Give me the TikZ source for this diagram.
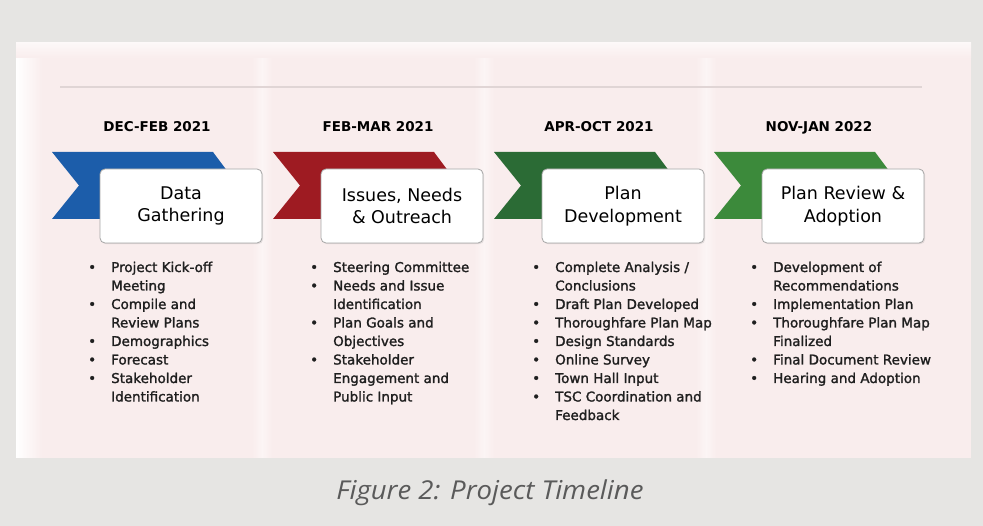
\documentclass[tikz,border=0pt]{standalone}
\usepackage{fontspec}
\setmainfont{DejaVu Sans}
\newfontfamily\bulfont[FakeBold=1.6]{DejaVu Sans}
\newfontfamily\capfont[FakeStretch=1.06]{Open Sans}
\usetikzlibrary{shadows}
\definecolor{bgray}{HTML}{E6E5E3}
\definecolor{panelc}{HTML}{F9EDED}
\definecolor{cblue}{HTML}{1C5DAA}
\definecolor{cred}{HTML}{9E1B22}
\definecolor{cgreenA}{HTML}{2B6B35}
\definecolor{cgreenB}{HTML}{3C8A3B}
\definecolor{capgray}{HTML}{5A5A5A}
\newcommand{\bitem}[1]{\par\noindent\hangindent=23pt\hangafter=1\makebox[23pt][l]{\textbullet}#1}
\tikzset{
  titlebox/.style={draw=black!35, line width=0.8pt, fill=white, rounded corners=5pt,
    minimum width=162pt, minimum height=74pt, align=center, inner sep=0pt,
    font=\fontsize{17.5}{22.5}\selectfont,
    drop shadow={opacity=0.18, shadow xshift=1.2pt, shadow yshift=-1.2pt}},
  datelbl/.style={font=\bfseries\fontsize{13.5}{16}\selectfont, inner sep=0pt, anchor=base},
  bullist/.style={anchor=base west, inner sep=0pt, text=black!88},
}
\newcommand{\listfont}{\bulfont\fontsize{13.5}{18.5}\selectfont}
\begin{document}
\begin{tikzpicture}[x=1pt,y=-1pt]
\useasboundingbox (0,0) rectangle (983,526);
\fill[bgray] (0,0) rectangle (983,526);
% panel
\fill[panelc] (16,43) rectangle (971,458);
\shade[left color=white, right color=panelc] (16,43) rectangle (42,458);
\foreach \xx in {262,484,706}{
  \shade[left color=panelc, right color=panelc, middle color=white!45!panelc] (\xx-10,43) rectangle (\xx+10,458);
}
\shade[top color=white!60!panelc, bottom color=panelc] (16,43) rectangle (971,58);
\draw[line width=2pt, draw=black!10!panelc] (60,87) -- (922,87);

% ---------- column chevrons ----------
\foreach \off/\col in {0/cblue,221/cred,442/cgreenA,662/cgreenB}{
  \fill[\col] ({\off+52},152) -- ({\off+213},152) -- ({\off+238},185.5) -- ({\off+213},219)
     -- ({\off+52},219) -- ({\off+79},185.5) -- cycle;
}

% ---------- date labels ----------
\node[datelbl] (d1) at (157,132) {DEC-FEB 2021};
\node[datelbl] (d2) at (378,132) {FEB-MAR 2021};
\node[datelbl] (d3) at (599,132) {APR-OCT 2021};
\node[datelbl] (d4) at (819,132) {NOV-JAN 2022};

% ---------- title boxes ----------
\node[titlebox] (b1) at (181,206) {Data\\Gathering};
\node[titlebox] (b2) at (402,206) {Issues, Needs\\\& Outreach};
\node[titlebox] (b3) at (623,206) {Plan\\Development};
\node[titlebox] (b4) at (843,206) {Plan Review \&\\Adoption};

% ---------- bullet lists ----------
\node[bullist] (l1) at (88,272) {\parbox[t]{200pt}{\raggedright\listfont
  \bitem{Project Kick-off\newline Meeting}
  \bitem{Compile and\newline Review Plans}
  \bitem{Demographics}
  \bitem{Forecast}
  \bitem{Stakeholder\newline Identification}}};
\node[bullist] (l2) at (310,272) {\parbox[t]{200pt}{\raggedright\listfont
  \bitem{Steering Committee}
  \bitem{Needs and Issue\newline Identification}
  \bitem{Plan Goals and\newline Objectives}
  \bitem{Stakeholder\newline Engagement and\newline Public Input}}};
\node[bullist] (l3) at (532,272) {\parbox[t]{200pt}{\raggedright\listfont
  \bitem{Complete Analysis /\newline Conclusions}
  \bitem{Draft Plan Developed}
  \bitem{Thoroughfare Plan Map}
  \bitem{Design Standards}
  \bitem{Online Survey}
  \bitem{Town Hall Input}
  \bitem{TSC Coordination and\newline Feedback}}};
\node[bullist] (l4) at (750,272) {\parbox[t]{200pt}{\raggedright\listfont
  \bitem{Development of\newline Recommendations}
  \bitem{Implementation Plan}
  \bitem{Thoroughfare Plan Map\newline Finalized}
  \bitem{Final Document Review}
  \bitem{Hearing and Adoption}}};

% ---------- caption ----------
\node[anchor=base, inner sep=0pt, text=capgray, font=\capfont\itshape\fontsize{26}{28}\selectfont] (cap) at (490,500) {Figure 2: Project Timeline};
\end{tikzpicture}
\end{document}
